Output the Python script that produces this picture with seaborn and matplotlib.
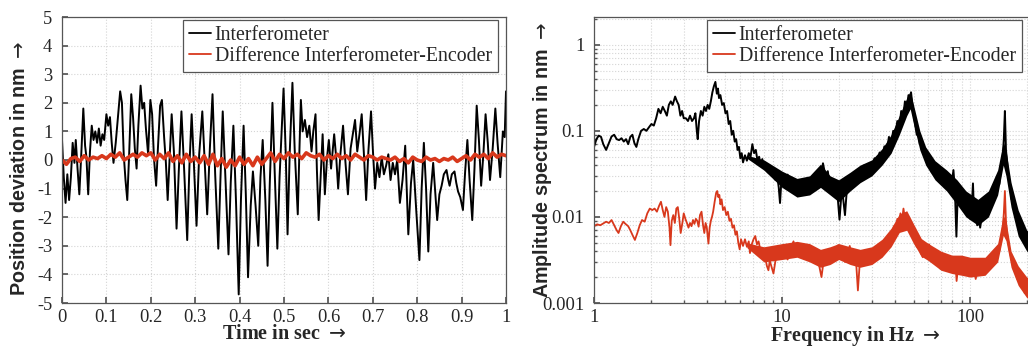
import numpy as np
import pandas as pd
import seaborn as sns
import matplotlib.pyplot as plt
from matplotlib.ticker import FixedLocator, NullFormatter

# ---------- time signal (left) ----------
t_ifm = [0.000, 0.004, 0.008, 0.012, 0.016, 0.020, 0.024, 0.028, 0.031, 0.035,
         0.039, 0.044, 0.048, 0.052, 0.055, 0.059, 0.063, 0.067, 0.071, 0.075,
         0.079, 0.083, 0.087, 0.091, 0.095, 0.100, 0.104, 0.108, 0.112, 0.116,
         0.121, 0.126, 0.131, 0.135, 0.139, 0.143, 0.147, 0.151, 0.156, 0.160,
         0.164, 0.168, 0.172, 0.177, 0.181, 0.185, 0.189, 0.194, 0.199, 0.203,
         0.207, 0.212, 0.216, 0.221, 0.225, 0.230, 0.234, 0.238, 0.243, 0.247,
         0.252, 0.258, 0.263, 0.269, 0.275, 0.282, 0.287, 0.292, 0.297, 0.303,
         0.309, 0.316, 0.321, 0.327, 0.333, 0.339, 0.345, 0.352, 0.357, 0.362,
         0.368, 0.375, 0.380, 0.386, 0.392, 0.398, 0.403, 0.409, 0.414, 0.419,
         0.425, 0.430, 0.436, 0.442, 0.447, 0.452, 0.458, 0.463, 0.468, 0.474,
         0.479, 0.485, 0.490, 0.499, 0.504, 0.508, 0.513, 0.519, 0.524, 0.531,
         0.535, 0.538, 0.542, 0.547, 0.552, 0.557, 0.562, 0.566, 0.571, 0.574,
         0.578, 0.583, 0.587, 0.592, 0.597, 0.601, 0.606, 0.613, 0.618, 0.622,
         0.627, 0.633, 0.638, 0.644, 0.650, 0.660, 0.665, 0.670, 0.675, 0.680,
         0.685, 0.690, 0.696, 0.700, 0.705, 0.710, 0.715, 0.720, 0.725, 0.730,
         0.735, 0.740, 0.745, 0.750, 0.755, 0.761, 0.767, 0.773, 0.780, 0.786,
         0.791, 0.798, 0.805, 0.810, 0.815, 0.820, 0.825, 0.830, 0.836, 0.840,
         0.845, 0.850, 0.855, 0.860, 0.866, 0.870, 0.873, 0.878, 0.884, 0.888,
         0.892, 0.897, 0.903, 0.908, 0.913, 0.918, 0.924, 0.929, 0.934, 0.939,
         0.944, 0.949, 0.954, 0.959, 0.964, 0.970, 0.976, 0.981, 0.987, 0.993,
         0.997, 1.000]
y_ifm = [0.7, -0.6, -1.5, -0.5, -1.4, -0.6, 0.6, -0.1, 0.7, -0.3,
         -1.2, 0.4, 1.8, 0.5, 0.1, -1.2, 0.3, 1.2, 0.7, 1.0,
         0.6, 1.1, 0.5, 0.9, 0.7, 1.6, 1.2, 1.5, 0.6, -0.1,
         0.6, 1.5, 2.4, 2.0, 0.2, -0.7, -1.4, 0.1, 2.3, 1.5,
         0.4, -0.3, 1.2, 2.6, 1.8, 2.0, 1.1, 0.2, 2.1, 1.6,
         0.1, -0.9, 0.4, 1.9, 2.1, 0.8, -0.1, -1.4, 0.3, 1.6,
         0.3, -2.4, -0.4, 1.7, -0.3, -2.8, -0.2, 1.6, -0.1, -2.3,
         0.2, 1.7, 0.1, -1.9, 0.4, 2.3, -0.5, -3.1, -0.6, 1.7,
         -0.6, -3.3, -0.8, 1.2, -1.5, -4.7, -1.4, 1.2, -1.2, -4.1,
         -1.6, -0.4, -1.6, -3.0, -0.6, 0.7, -1.4, -3.7, -0.8, 2.0,
         -0.4, -3.1, -0.6, 2.5, 0.2, -2.6, 0.3, 2.7, 0.4, -1.9,
         0.5, 2.1, 1.0, 1.4, 0.8, 1.2, 0.3, 1.0, 1.6, -0.3,
         -2.1, -0.4, 0.9, -1.2, 0.1, 0.7, -0.3, 0.9, 0.0, -1.0,
         0.2, 1.2, 0.0, -1.2, 0.4, 1.4, 0.3, 0.9, 1.6, 0.2,
         -1.4, 0.3, 1.7, 0.4, -1.0, -0.1, -0.6, 0.1, -0.5, -0.2,
         0.2, -0.7, -0.1, -0.5, 0.0, -1.5, -0.7, 0.5, -2.6, -0.8,
         0.0, -1.8, -3.5, -1.0, 0.6, -1.0, -3.2, -1.2, -0.1, -1.0,
         -2.1, -1.2, -0.9, -0.5, -0.35, -0.7, -0.9, -0.5, -0.4, -0.8,
         -1.1, -1.3, -1.75, -0.4, 0.7, -0.7, -2.1, -0.3, 1.9, 0.7,
         -0.9, 0.2, 1.6, 0.6, -0.7, 0.4, 1.8, 0.6, -0.6, 1.0,
         0.8, 2.4]

t_diff = [round(0.01 * i, 2) for i in range(101)]
y_diff = [0.0, -0.15, 0.05, 0.1, -0.05, 0.15, 0.0, 0.1, 0.05, 0.15,
          0.05, 0.2, 0.1, 0.25, 0.0, 0.1, 0.2, 0.1, 0.25, 0.15,
          0.25, 0.0, 0.2, 0.05, 0.25, -0.05, 0.15, -0.1, 0.2, -0.05,
          0.1, -0.1, 0.15, -0.15, 0.2, -0.2, 0.05, -0.25, 0.0, -0.2,
          0.1, -0.15, 0.05, -0.2, 0.1, -0.15, 0.05, 0.25, -0.05, 0.2,
          0.05, 0.25, 0.1, 0.2, 0.05, 0.25, 0.15, 0.1, 0.2, 0.0,
          0.15, 0.05, 0.2, 0.05, 0.15, 0.0, 0.2, 0.1, 0.0, 0.15,
          0.1, 0.0, 0.1, 0.05, 0.0, 0.1, -0.05, 0.05, -0.1, 0.1,
          0.0, -0.05, 0.1, 0.0, 0.05, -0.05, 0.05, 0.0, 0.1, -0.05,
          0.05, 0.15, 0.0, 0.2, 0.1, 0.2, 0.05, 0.25, 0.1, 0.2,
          0.15]

# ---------- amplitude spectra (right) ----------
f_ifm = [1.00, 1.03, 1.06, 1.09, 1.12, 1.16, 1.20, 1.24, 1.28, 1.32, 1.36, 1.40,
         1.44, 1.48, 1.52, 1.56, 1.60, 1.64, 1.68, 1.72, 1.78, 1.84, 1.90, 1.96,
         2.02, 2.08, 2.14, 2.20, 2.26, 2.32, 2.38, 2.44, 2.50, 2.56, 2.62, 2.70,
         2.76, 2.82, 2.88, 2.94, 3.00, 3.08, 3.16, 3.24, 3.32, 3.40, 3.46, 3.52,
         3.56, 3.62, 3.70, 3.78, 3.86, 3.94, 4.02, 4.10, 4.18, 4.26, 4.34, 4.42,
         4.50, 4.56, 4.62, 4.70, 4.80, 4.90, 5.00, 5.10, 5.20, 5.30, 5.40, 5.50,
         5.60, 5.70, 5.80, 5.90, 6.00, 6.10, 6.20, 6.35, 6.50, 6.65, 6.80, 6.95,
         7.10, 7.25, 7.40, 7.55, 7.70, 7.85, 8.00, 8.20, 8.40, 8.60, 8.80, 9.00,
         9.20, 9.40, 9.60, 9.75, 9.90, 10.1, 10.4, 10.7, 11.0, 11.3, 11.6, 12.0,
         12.4, 12.8, 13.2, 13.6, 14.0, 14.5, 15.0, 15.5, 16.0, 16.5, 17.0, 17.5,
         18.0, 18.5, 19.0, 19.5, 20.2, 20.8, 21.6, 22.2, 22.8, 23.5, 24.2, 25.0,
         25.8, 26.6, 27.4, 28.3, 29.2, 30.1, 31.0, 32.0, 33.0, 34.0, 35.0, 36.0,
         37.0, 38.0, 39.0, 40.0, 41.0, 42.0, 43.0, 44.0, 45.0, 46.0, 47.0, 47.8,
         48.5, 49.3, 50.0, 51.0, 52.0, 53.0, 54.0, 55.0, 56.5, 58.0, 59.5, 61.0,
         62.5, 64.0, 66.0, 68.0, 70.0, 72.0, 74.0, 76.0, 78.0, 80.0, 81.5, 83.0,
         84.5, 86.0, 88.0, 90.0, 92.0, 94.0, 96.0, 98.0, 100.0, 102.0, 103.5, 105.0,
         107.0, 109.0, 111.0, 113.0, 116.0, 119.0, 122.0, 125.0, 128.0, 131.0, 134.0, 137.0,
         140.0, 143.0, 146.0, 149.0, 151.0, 153.0, 155.0, 157.0, 160.0, 163.0, 166.0, 170.0,
         174.0, 178.0, 182.0, 186.0, 190.0, 195.0, 200.0, 205.0]
a_ifm = [0.065, 0.08, 0.088, 0.085, 0.07, 0.06, 0.072, 0.086, 0.09, 0.08, 0.078, 0.082,
         0.075, 0.08, 0.07, 0.085, 0.09, 0.072, 0.065, 0.08, 0.1, 0.105, 0.1, 0.11,
         0.12, 0.115, 0.14, 0.18, 0.16, 0.19, 0.17, 0.15, 0.2, 0.22, 0.2, 0.25,
         0.22, 0.2, 0.15, 0.17, 0.14, 0.14, 0.13, 0.15, 0.13, 0.14, 0.16, 0.1,
         0.08, 0.13, 0.17, 0.15, 0.19, 0.17, 0.2, 0.18, 0.22, 0.28, 0.33, 0.37,
         0.27, 0.31, 0.24, 0.26, 0.2, 0.21, 0.16, 0.17, 0.12, 0.13, 0.09, 0.1,
         0.075, 0.08, 0.06, 0.065, 0.048, 0.055, 0.043, 0.052, 0.045, 0.055, 0.05, 0.07,
         0.055, 0.06, 0.045, 0.05, 0.04, 0.047, 0.037, 0.042, 0.033, 0.038, 0.03, 0.034,
         0.027, 0.031, 0.022, 0.0145, 0.025, 0.03, 0.026, 0.031, 0.024, 0.027, 0.021, 0.025,
         0.018, 0.022, 0.02, 0.026, 0.022, 0.029, 0.024, 0.03, 0.028, 0.042, 0.03, 0.034,
         0.022, 0.027, 0.019, 0.024, 0.0093, 0.022, 0.0105, 0.024, 0.028, 0.023, 0.033, 0.028,
         0.036, 0.03, 0.04, 0.033, 0.042, 0.036, 0.048, 0.042, 0.056, 0.048, 0.066, 0.058,
         0.085, 0.072, 0.1, 0.09, 0.13, 0.11, 0.17, 0.14, 0.22, 0.18, 0.26, 0.22,
         0.28, 0.2, 0.16, 0.12, 0.09, 0.1, 0.07, 0.075, 0.055, 0.06, 0.04, 0.046,
         0.033, 0.038, 0.029, 0.034, 0.025, 0.03, 0.023, 0.028, 0.021, 0.026, 0.035, 0.02,
         0.0059, 0.02, 0.014, 0.018, 0.012, 0.016, 0.011, 0.014, 0.0095, 0.013, 0.0245, 0.01,
         0.012, 0.008, 0.011, 0.0075, 0.011, 0.0095, 0.013, 0.011, 0.016, 0.014, 0.02, 0.018,
         0.027, 0.024, 0.04, 0.05, 0.08, 0.17, 0.06, 0.045, 0.028, 0.025, 0.016, 0.015,
         0.01, 0.011, 0.0075, 0.0075, 0.0055, 0.006, 0.0045, 0.005]

f_diff = [1.00, 1.04, 1.08, 1.12, 1.16, 1.20, 1.24, 1.28, 1.32, 1.35, 1.39, 1.43,
          1.47, 1.52, 1.56, 1.60, 1.65, 1.70, 1.75, 1.80, 1.86, 1.92, 1.98, 2.04,
          2.10, 2.16, 2.22, 2.27, 2.32, 2.37, 2.42, 2.47, 2.52, 2.55, 2.59, 2.64,
          2.69, 2.74, 2.79, 2.84, 2.89, 2.95, 3.00, 3.06, 3.12, 3.18, 3.24, 3.30,
          3.36, 3.42, 3.48, 3.54, 3.60, 3.66, 3.73, 3.80, 3.86, 3.92, 3.98, 4.06,
          4.12, 4.18, 4.24, 4.30, 4.38, 4.46, 4.52, 4.58, 4.64, 4.70, 4.77, 4.85,
          4.95, 5.05, 5.15, 5.25, 5.35, 5.45, 5.55, 5.65, 5.75, 5.85, 5.95, 6.05,
          6.20, 6.35, 6.50, 6.65, 6.75, 6.90, 7.05, 7.20, 7.35, 7.50, 7.65, 7.80,
          7.95, 8.10, 8.30, 8.46, 8.60, 8.80, 9.00, 9.20, 9.40, 9.56, 9.75, 9.95,
          10.2, 10.4, 10.7, 11.0, 11.3, 11.5, 11.8, 12.1, 12.4, 12.7, 13.0, 13.4,
          13.8, 14.2, 14.6, 14.9, 15.3, 15.7, 16.2, 16.6, 17.1, 17.6, 18.1, 18.6,
          19.2, 19.9, 20.5, 21.0, 21.6, 22.2, 22.9, 23.5, 24.2, 24.8, 25.3, 25.9,
          26.8, 27.6, 28.4, 29.2, 30.1, 31.0, 32.0, 33.0, 34.0, 35.0, 36.0, 36.8,
          37.6, 38.5, 39.3, 40.1, 41.0, 41.8, 42.6, 43.4, 44.2, 45.0, 45.8, 46.6,
          47.4, 48.2, 49.0, 50.0, 51.0, 52.0, 53.2, 54.5, 56.0, 57.5, 59.0, 60.5,
          62.0, 64.0, 66.0, 68.0, 69.5, 71.5, 73.5, 75.5, 77.5, 79.5, 81.5, 83.5,
          84.7, 86.5, 88.5, 91.0, 93.5, 96.0, 98.5, 101.0, 104.0, 107.0, 110.0, 113.0,
          116.0, 119.0, 122.0, 125.0, 128.0, 131.0, 134.0, 137.0, 140.0, 143.0, 146.0, 149.0,
          151.0, 153.0, 155.0, 157.0, 160.0, 163.0, 166.0, 170.0, 174.0, 178.0, 182.0, 186.0,
          190.0, 195.0, 200.0, 205.0]
a_diff = [0.0078, 0.0082, 0.008, 0.0084, 0.0088, 0.0085, 0.0092, 0.008, 0.007, 0.0065, 0.0078, 0.0088,
          0.0083, 0.0078, 0.007, 0.0062, 0.0054, 0.0065, 0.008, 0.0092, 0.0088, 0.011, 0.0125, 0.012,
          0.0125, 0.0115, 0.0135, 0.015, 0.012, 0.01, 0.013, 0.0115, 0.0075, 0.0047, 0.009, 0.0105,
          0.0085, 0.0125, 0.013, 0.0095, 0.0065, 0.0085, 0.011, 0.0095, 0.0085, 0.0075, 0.0085, 0.0078,
          0.0092, 0.0083, 0.0095, 0.009, 0.0077, 0.0105, 0.0115, 0.008, 0.0065, 0.0085, 0.0075, 0.0049,
          0.0075, 0.009, 0.01, 0.0115, 0.015, 0.019, 0.02, 0.017, 0.018, 0.014, 0.016, 0.012,
          0.013, 0.0105, 0.0115, 0.009, 0.0095, 0.0075, 0.008, 0.0062, 0.0068, 0.005, 0.0042, 0.0055,
          0.0046, 0.0055, 0.0045, 0.0052, 0.0038, 0.0048, 0.0055, 0.006, 0.0048, 0.0052, 0.0042, 0.0038,
          0.0032, 0.0036, 0.0027, 0.0024, 0.0031, 0.0026, 0.0022, 0.003, 0.0038, 0.0046, 0.0042, 0.0035,
          0.0043, 0.0038, 0.0032, 0.0042, 0.0047, 0.0052, 0.004, 0.0045, 0.0035, 0.004, 0.0033, 0.0043,
          0.0046, 0.0036, 0.0041, 0.0032, 0.0037, 0.0028, 0.002, 0.003, 0.0036, 0.003, 0.0038, 0.0033,
          0.0042, 0.0047, 0.0037, 0.0042, 0.003, 0.0037, 0.0046, 0.0034, 0.0039, 0.0028, 0.0014, 0.003,
          0.0035, 0.003, 0.0039, 0.0032, 0.004, 0.0034, 0.0043, 0.0036, 0.0048, 0.0041, 0.0055, 0.0048,
          0.0062, 0.0055, 0.0078, 0.0068, 0.0095, 0.008, 0.011, 0.009, 0.0125, 0.0095, 0.011, 0.008,
          0.0092, 0.0068, 0.0075, 0.0055, 0.0062, 0.0045, 0.0052, 0.0038, 0.0034, 0.0042, 0.0035, 0.0048,
          0.0036, 0.004, 0.003, 0.0035, 0.0025, 0.0033, 0.0028, 0.0035, 0.0029, 0.0034, 0.0026, 0.003,
          0.0018, 0.0028, 0.0033, 0.0026, 0.0031, 0.0025, 0.0032, 0.0024, 0.0029, 0.0019, 0.0025, 0.0021,
          0.0027, 0.0022, 0.0029, 0.0024, 0.0031, 0.0028, 0.0036, 0.0032, 0.0045, 0.004, 0.0055, 0.0075,
          0.011, 0.02, 0.009, 0.0065, 0.0048, 0.0038, 0.0032, 0.0025, 0.0028, 0.0019, 0.0023, 0.0016,
          0.0019, 0.0013, 0.0016, 0.0012]

# dense noisy band (lower / upper edge of the spectrum trace)
band_f_ifm = [6.5, 8, 10, 12, 14, 16, 18, 20, 23, 26, 30, 34, 38, 42, 46, 48,
              50, 54, 58, 65, 75, 85, 95, 110, 125, 140, 150, 155, 165, 180, 200, 250]
band_hi_ifm = [0.052, 0.046, 0.034, 0.028, 0.03, 0.041, 0.03, 0.027, 0.033, 0.04,
               0.046, 0.062, 0.09, 0.15, 0.24, 0.29, 0.2, 0.1, 0.065, 0.045, 0.035, 0.027,
               0.02, 0.016, 0.02, 0.035, 0.075, 0.06, 0.025, 0.012, 0.007, 0.005]
band_lo_ifm = [0.048, 0.035, 0.022, 0.017, 0.018, 0.022, 0.018, 0.015, 0.02, 0.025,
               0.03, 0.04, 0.055, 0.09, 0.15, 0.18, 0.12, 0.06, 0.04, 0.027, 0.02, 0.014,
               0.01, 0.008, 0.01, 0.018, 0.04, 0.03, 0.013, 0.006, 0.004, 0.003]
band_f_diff = [6.5, 8, 10, 12, 14, 16, 18, 20, 23, 26, 30, 34, 38, 42, 46, 50, 55, 60,
               70, 80, 90, 100, 120, 140, 150, 155, 165, 180, 200, 250]
band_hi_diff = [0.005, 0.0045, 0.0049, 0.0052, 0.0049, 0.0042, 0.0045, 0.0049, 0.0045, 0.0042, 0.0045, 0.0055,
                0.0074, 0.0108, 0.0118, 0.0083, 0.0056, 0.0049, 0.004, 0.0036, 0.0036, 0.0034, 0.0034, 0.0049,
                0.0104, 0.009, 0.004, 0.0027, 0.002, 0.0016]
band_lo_diff = [0.0044, 0.003, 0.0032, 0.0034, 0.003, 0.0026, 0.0028, 0.0032, 0.0028, 0.0026, 0.0028, 0.0034,
                0.0045, 0.0066, 0.007, 0.0049, 0.0035, 0.0031, 0.0024, 0.0022, 0.0021, 0.002, 0.0021, 0.003,
                0.0061, 0.0053, 0.0026, 0.0016, 0.00115, 0.00095]

lbl_ifm = "Interferometer"
lbl_diff = "Difference Interferometer-Encoder"
red = "#d8381c"

sns.set_theme(style="whitegrid")
plt.rcParams["font.family"] = ["Liberation Serif", "DejaVu Serif"]
plt.rcParams["axes.unicode_minus"] = False

fig = plt.figure(figsize=(10.28, 3.47), dpi=100)
ax1 = fig.add_axes([62 / 1028, 44 / 347, 444 / 1028, 286 / 347])
ax2 = fig.add_axes([594 / 1028, 44 / 347, 451 / 1028, 286 / 347])

grid_kw = dict(color="#d5d5d5", linestyle=":", linewidth=0.8)
label_sans = dict(family=["Liberation Sans", "DejaVu Sans"], weight="bold", fontsize=14.2)
label_serif = dict(family=["Liberation Serif", "DejaVu Serif"], weight="bold", fontsize=14.5)

# left: time signal
sns.lineplot(x=t_ifm, y=y_ifm, ax=ax1, color="black", linewidth=1.4,
             sort=False, estimator=None, label=lbl_ifm)
sns.lineplot(x=t_diff, y=y_diff, ax=ax1, color=red, linewidth=2.6,
             sort=False, estimator=None, label=lbl_diff)
ax1.set_xlim(0, 1)
ax1.set_ylim(-5, 5)
ax1.set_xticks(np.arange(0, 1.01, 0.1))
ax1.set_xticklabels(["0", "0.1", "0.2", "0.3", "0.4", "0.5", "0.6", "0.7", "0.8", "0.9", "1"])
ax1.set_yticks(range(-5, 6))
ax1.set_xlabel("Time in sec $\\rightarrow$", **label_serif)
ax1.set_ylabel("Position deviation in nm $\\rightarrow$", **label_sans)
ax1.xaxis.set_label_coords(0.5, -0.075)
ax1.yaxis.set_label_coords((29 - 62) / 444, 0.47)
ax1.grid(True, **grid_kw)

# right: amplitude spectra
sns.lineplot(x=f_ifm, y=a_ifm, ax=ax2, color="black", linewidth=1.4,
             sort=False, estimator=None, label=lbl_ifm)
ax2.fill_between(band_f_ifm, band_lo_ifm, band_hi_ifm, color="black", linewidth=0)
sns.lineplot(x=f_diff, y=a_diff, ax=ax2, color=red, linewidth=1.3,
             sort=False, estimator=None, label=lbl_diff)
ax2.fill_between(band_f_diff, band_lo_diff, band_hi_diff, color=red, linewidth=0)
ax2.set_xscale("log")
ax2.set_yscale("log")
ax2.set_xlim(1, 250)
ax2.set_ylim(0.001, 2.1)
ax2.xaxis.set_major_locator(FixedLocator([1, 10, 100]))
ax2.set_xticklabels(["1", "10", "100"])
ax2.yaxis.set_major_locator(FixedLocator([0.001, 0.01, 0.1, 1]))
ax2.set_yticklabels(["0.001", "0.01", "0.1", "1"])
ax2.xaxis.set_minor_formatter(NullFormatter())
ax2.yaxis.set_minor_formatter(NullFormatter())
ax2.set_xlabel("Frequency in Hz $\\rightarrow$", **label_serif)
ax2.set_ylabel("Amplitude spectrum in nm $\\rightarrow$", **label_sans)
ax2.xaxis.set_label_coords((855 - 594) / 451, -0.075)
ax2.yaxis.set_label_coords((554 - 594) / 451, 0.5)
ax2.grid(True, which="both", **grid_kw)

for ax in (ax1, ax2):
    ax.set_facecolor("white")
    for s in ax.spines.values():
        s.set_color("#555555")
        s.set_linewidth(0.9)
    ax.tick_params(axis="both", which="major", labelsize=13.3, direction="in",
                   length=4, color="#555555", bottom=True, left=True)
    ax.tick_params(axis="y", which="major", pad=7)
    ax.tick_params(axis="x", which="major", pad=4)
    ax.tick_params(axis="both", which="minor", direction="in", length=2,
                   color="#555555", bottom=True, left=True)

leg_kw = dict(loc="upper left", fontsize=14.3, handlelength=1.1, handletextpad=0.2,
              borderpad=0.3, labelspacing=0.1, fancybox=False, framealpha=1,
              edgecolor="#555555", borderaxespad=0)
leg1 = ax1.legend(bbox_to_anchor=((183 - 62) / 444, 0.99), **leg_kw)
leg2 = ax2.legend(bbox_to_anchor=((707 - 594) / 451, 0.99), **leg_kw)
for leg in (leg1, leg2):
    leg.get_frame().set_linewidth(0.9)
    for ln in leg.get_lines():
        ln.set_linewidth(1.3)

fig.savefig("out.png", dpi=100, facecolor="white")
